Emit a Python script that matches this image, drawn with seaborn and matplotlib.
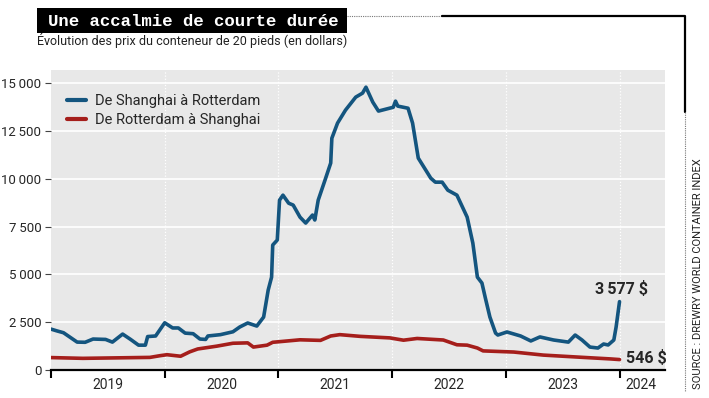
import numpy as np
import pandas as pd
import matplotlib
matplotlib.use("Agg")
import matplotlib.pyplot as plt
import seaborn as sns
from matplotlib.patches import Rectangle
from matplotlib.lines import Line2D

# ---- data ----
t_sh = [2019.00, 2019.05, 2019.11, 2019.23, 2019.30, 2019.37, 2019.48, 2019.54, 2019.63, 2019.70,
        2019.77, 2019.83, 2019.85, 2019.92, 2020.00, 2020.07, 2020.12, 2020.18, 2020.25, 2020.31,
        2020.36, 2020.38, 2020.49, 2020.60, 2020.66, 2020.73, 2020.81, 2020.87, 2020.91, 2020.94,
        2020.95, 2020.99, 2021.01, 2021.04, 2021.09, 2021.13, 2021.19, 2021.24, 2021.30, 2021.32,
        2021.35, 2021.41, 2021.46, 2021.47, 2021.52, 2021.59, 2021.68, 2021.74, 2021.77, 2021.83,
        2021.88, 2022.01, 2022.03, 2022.05, 2022.14, 2022.18, 2022.23, 2022.34, 2022.38, 2022.44,
        2022.49, 2022.57, 2022.66, 2022.71, 2022.75, 2022.79, 2022.82, 2022.86, 2022.91, 2022.93,
        2023.01, 2023.13, 2023.22, 2023.30, 2023.42, 2023.55, 2023.61, 2023.67, 2023.74, 2023.81,
        2023.86, 2023.90, 2023.95, 2023.97, 2024.00]
prix_sh = [2140, 2050, 1950, 1460, 1450, 1620, 1600, 1460, 1880, 1600,
           1300, 1300, 1750, 1780, 2470, 2200, 2200, 1930, 1900, 1620,
           1600, 1780, 1850, 2000, 2250, 2460, 2300, 2770, 4180, 4860,
           6540, 6800, 8890, 9150, 8730, 8630, 8000, 7690, 8110, 7850,
           8890, 9940, 10830, 12130, 12920, 13600, 14280, 14490, 14800, 14020,
           13550, 13750, 14070, 13810, 13700, 12920, 11090, 10040, 9830, 9830,
           9410, 9150, 8000, 6640, 4860, 4550, 3770, 2770, 1930, 1830,
           1990, 1780, 1520, 1730, 1570, 1460, 1830, 1570, 1200, 1150,
           1360, 1310, 1570, 2250, 3577]

t_ro = [2019.00, 2019.28, 2019.87, 2019.96, 2020.02, 2020.14, 2020.22, 2020.29, 2020.46, 2020.60,
        2020.73, 2020.78, 2020.90, 2020.95, 2021.19, 2021.37, 2021.46, 2021.54, 2021.72, 2021.98,
        2022.10, 2022.22, 2022.45, 2022.57, 2022.66, 2022.75, 2022.80, 2023.07, 2023.33, 2023.68,
        2023.92, 2024.00]
prix_ro = [650, 610, 660, 750, 800, 720, 950, 1100, 1250, 1400,
           1420, 1200, 1300, 1450, 1580, 1550, 1780, 1850, 1760, 1680,
           1560, 1650, 1570, 1320, 1300, 1150, 1000, 940, 780, 660,
           580, 546]

annees = [2019, 2020, 2021, 2022, 2023, 2024]
lab_annees = ["2019", "2020", "2021", "2022", "2023", "2024"]
yticks = [0, 2500, 5000, 7500, 10000, 12500, 15000]

df_sh = pd.DataFrame({"t": t_sh, "prix": prix_sh})
df_ro = pd.DataFrame({"t": t_ro, "prix": prix_ro})

bleu = "#14557f"
rouge = "#a51e1b"

sns.set_style("white")
plt.rcParams["font.family"] = ["Roboto", "DejaVu Sans"]

W, H = 709, 398
fig = plt.figure(figsize=(W / 100, H / 100), dpi=100)
ax = fig.add_axes([51 / W, 28 / H, 614 / W, 300 / H])
ax.set_facecolor("#e8e8e8")

sns.lineplot(data=df_sh, x="t", y="prix", color=bleu, lw=2.6, ax=ax,
             label="De Shanghai à Rotterdam")
sns.lineplot(data=df_ro, x="t", y="prix", color=rouge, lw=2.6, ax=ax,
             label="De Rotterdam à Shanghai")

ax.set_xlim(2019.0, 2024.40)
ax.set_ylim(0, 15700)
ax.set_xlabel("")
ax.set_ylabel("")

# grid
for v in yticks[1:]:
    ax.axhline(v, color="white", lw=1.2, zorder=0.5)
for a in annees[1:]:
    ax.axvline(a, color="white", lw=0.9, ls=(0, (1, 1.5)), zorder=0.5)

for s in ["top", "right", "left"]:
    ax.spines[s].set_visible(False)
ax.spines["bottom"].set_color("black")
ax.spines["bottom"].set_linewidth(1.6)

ax.set_yticks(yticks)
ax.set_yticklabels([f"{v:,}".replace(",", "\u2009") for v in yticks], fontsize=9.5)
ax.tick_params(axis="y", length=4, width=0.8, color="#444444", pad=3, left=True)

ax.set_xticks(annees)
ax.set_xticklabels([])
ax.tick_params(axis="x", which="major", length=6, width=1.5, color="black", bottom=True)
ax.set_xticks([2019.5, 2020.5, 2021.5, 2022.5, 2023.5, 2024.19], minor=True)
ax.set_xticklabels(lab_annees, minor=True, fontsize=10)
ax.tick_params(axis="x", which="minor", length=0, pad=6)

leg = ax.legend(loc="upper left", bbox_to_anchor=(0.005, 0.965), frameon=False,
                fontsize=10.5, handlelength=1.3, labelspacing=0.35, handletextpad=0.6)
for l in leg.get_lines():
    l.set_linewidth(3)

# end labels
ax.annotate("3\u2009577 $", (t_sh[-1], prix_sh[-1]), xytext=(2024.02, 4250),
            ha="center", va="center", fontsize=11.5, fontweight="bold")
ax.annotate("546 $", (t_ro[-1], prix_ro[-1]), xytext=(2024.06, prix_ro[-1] + 100),
            ha="left", va="center", fontsize=11.5, fontweight="bold")

# title block
fig.add_artist(Rectangle((37 / W, 1 - 33 / H), 310 / W, 25 / H, transform=fig.transFigure,
                         facecolor="black", edgecolor="none"))
fig.text(48 / W, 1 - 21 / H, "Une accalmie de courte durée", color="white",
         family="Liberation Mono", fontweight="bold", fontsize=12.5, va="center", ha="left")
fig.add_artist(Line2D([347 / W, 442 / W], [1 - 16 / H, 1 - 16 / H], transform=fig.transFigure,
                      color="#777777", lw=0.8, ls=(0, (1, 1))))
fig.add_artist(Line2D([442 / W, 685 / W, 685 / W], [1 - 16 / H, 1 - 16 / H, 1 - 112 / H],
                      transform=fig.transFigure, color="black", lw=1.6))
fig.add_artist(Line2D([685 / W, 685 / W], [1 - 112 / H, 1 - 392 / H], transform=fig.transFigure,
                      color="#777777", lw=0.8, ls=(0, (1, 1))))
fig.text(37 / W, 1 - 41 / H, "Évolution des prix du conteneur de 20 pieds (en dollars)",
         fontsize=9, va="center", ha="left", color="#222222")
fig.text(698 / W, 1 - 389 / H, "SOURCE : DREWRY WORLD CONTAINER INDEX", rotation=90,
         fontsize=8, va="bottom", ha="center", color="#222222")

fig.savefig("out.png", dpi=100)
